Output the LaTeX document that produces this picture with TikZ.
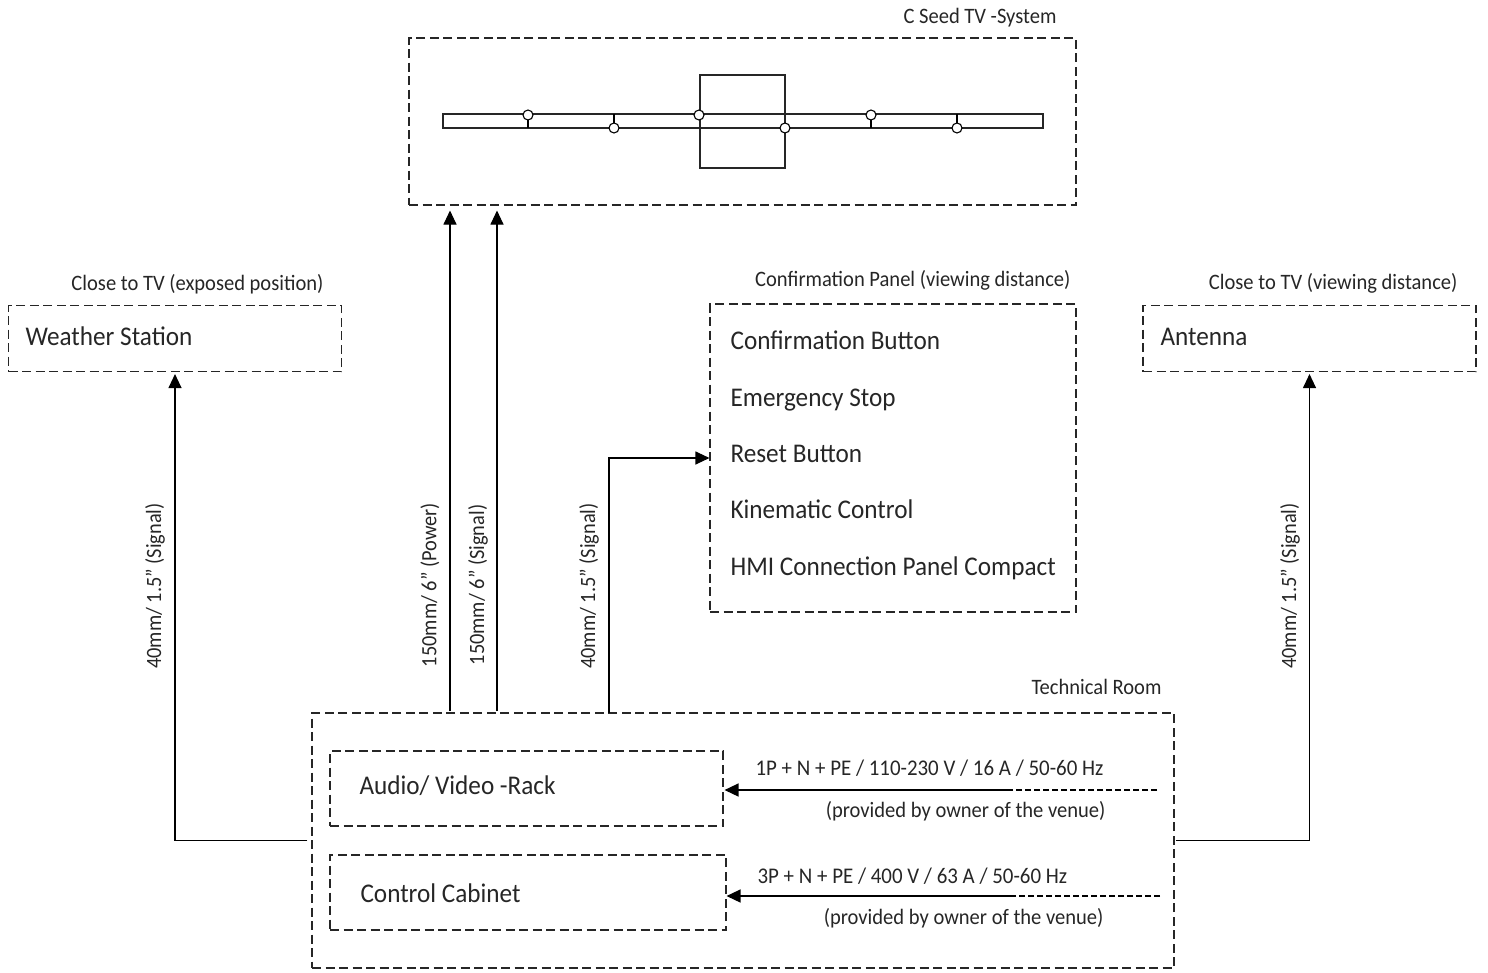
\documentclass[tikz,border=0pt]{standalone}
\usepackage{fontspec}
\setmainfont[FakeStretch=0.934]{Carlito}
\usetikzlibrary{positioning,arrows.meta}
\begin{document}
\begin{tikzpicture}[
						x=1pt, y=-1pt,
						line width=1.1pt,
						dashbox/.style={rectangle, draw=black!85, dash pattern=on 9pt off 4.5pt, inner sep=0pt},
						solidbox/.style={rectangle, draw=black!85, inner sep=0pt},
						joint/.style={circle, draw=black, fill=white, inner sep=0pt, minimum size=10pt},
						caption/.style={inner sep=0pt, text=black!85, font=\fontsize{22}{26}\selectfont},
						supply/.style={inner sep=0pt, anchor=base west, text=black!85, font=\fontsize{22.4}{26}\selectfont},
						entry/.style={inner sep=0pt, anchor=base west, text=black!85, font=\fontsize{27}{32}\selectfont},
						cable/.style={inner sep=0pt, rotate=90, text=black!85, font=\fontsize{21.8}{26}\selectfont},
						arrow/.style={-{Triangle[length=14pt,width=13pt]}}
					]
					\useasboundingbox (0,0) rectangle (1488,972);
					\node[dashbox, minimum width=667pt, minimum height=167pt] (tv) at (742.5,121.5) {};
					\node[dashbox, minimum width=333pt, minimum height=66pt] (weather) at (175,338.5) {};
					\node[dashbox, minimum width=333pt, minimum height=66pt] (antenna) at (1309.5,338.5) {};
					\node[dashbox, minimum width=366pt, minimum height=308pt] (panel) at (893,458) {};
					\node[dashbox, minimum width=862pt, minimum height=255pt] (tech) at (743,840.5) {};
					\node[dashbox, minimum width=393pt, minimum height=75pt] (rack) at (526.5,788.5) {};
					\node[dashbox, minimum width=396pt, minimum height=75pt] (cabinet) at (528,892.5) {};
					\node[solidbox, minimum width=600pt, minimum height=14pt] (track) at (743,121) {};
					\node[solidbox, minimum width=85pt, minimum height=93pt] (stage) at (742.5,121.5) {};
					\draw (528,115) -- (528,128);
					\draw (614,114) -- (614,128);
					\draw (871,115) -- (871,128);
					\draw (957,114) -- (957,128);
					\node[joint] (joint1) at (528,115) {};
					\node[joint] (joint2) at (614,128) {};
					\node[joint] (joint3) at (699,115) {};
					\node[joint] (joint4) at (785,128) {};
					\node[joint] (joint5) at (871,115) {};
					\node[joint] (joint6) at (957,128) {};
					\node[caption, anchor=base east] (tvcap) at (1057,23) {C Seed TV -System};
					\node[caption, anchor=base east] (weathercap) at (324,290) {Close to TV (exposed position)};
					\node[caption, anchor=base east] (panelcap) at (1071,286) {Confirmation Panel (viewing distance)};
					\node[caption, anchor=base east] (antennacap) at (1458,289) {Close to TV (viewing distance)};
					\node[caption, anchor=base east] (techcap) at (1162,694) {Technical Room};
					\node[entry] (weathertxt) at (25,345) {Weather Station};
					\node[entry] (antennatxt) at (1160,345) {Antenna};
					\node[entry] (btn1) at (730,349) {Confirmation Button};
					\node[entry] (btn2) at (730,406) {Emergency Stop};
					\node[entry] (btn3) at (730,462) {Reset Button};
					\node[entry] (btn4) at (730,518) {Kinematic Control};
					\node[entry] (btn5) at (730,575) {HMI Connection Panel Compact};
					\node[entry] (racktxt) at (359,794) {Audio/ Video -Rack};
					\node[entry] (cabinettxt) at (360,902) {Control Cabinet};
					\node[supply] (supply1) at (755,775) {1P + N + PE / 110-230 V / 16 A / 50-60 Hz};
					\node[caption, anchor=base east] (owner1) at (1106,817) {(provided by owner of the venue)};
					\node[supply] (supply2) at (757,883) {3P + N + PE / 400 V / 63 A / 50-60 Hz};
					\node[caption, anchor=base east] (owner2) at (1104,924) {(provided by owner of the venue)};
					\node[cable] (cable1) at (155,586) {40mm/ 1.5'' (Signal)};
					\node[cable] (cable2) at (430,585) {150mm/ 6'' (Power)};
					\node[cable] (cable3) at (478,585) {150mm/ 6'' (Signal)};
					\node[cable] (cable4) at (589,586) {40mm/ 1.5'' (Signal)};
					\node[cable] (cable5) at (1290,586) {40mm/ 1.5'' (Signal)};
					\coordinate (power) at (450,711);
					\coordinate (signal) at (497,711);
					\coordinate (panelin) at (609,713);
					\coordinate (mains1) at (1157,790);
					\coordinate (split1) at (1010,790);
					\coordinate (mains2) at (1160,896);
					\coordinate (split2) at (1010,896);
					\begin{scope}[arrow]
					\draw[shorten <=4pt, shorten >=2pt] (tech.west) -| (weather.south);
					\draw[shorten <=1pt, shorten >=2pt] (tech.east) -| (antenna.south);
					\draw[shorten >=5pt] (power) -- (tv.south -| power);
					\draw[shorten >=5pt] (signal) -- (tv.south -| signal);
					\draw (panelin) |- (panel.west);
					\draw[line width=1.5pt, shorten >=1pt] (split1) -- (rack.east |- split1);
					\draw[line width=1.5pt, shorten >=0pt] (split2) -- (cabinet.east |- split2);
					\end{scope}
					\draw[dash pattern=on 6pt off 3pt] (mains1) -- (split1);
					\draw[dash pattern=on 6pt off 3pt] (mains2) -- (split2);
					\end{tikzpicture}
\end{document}
